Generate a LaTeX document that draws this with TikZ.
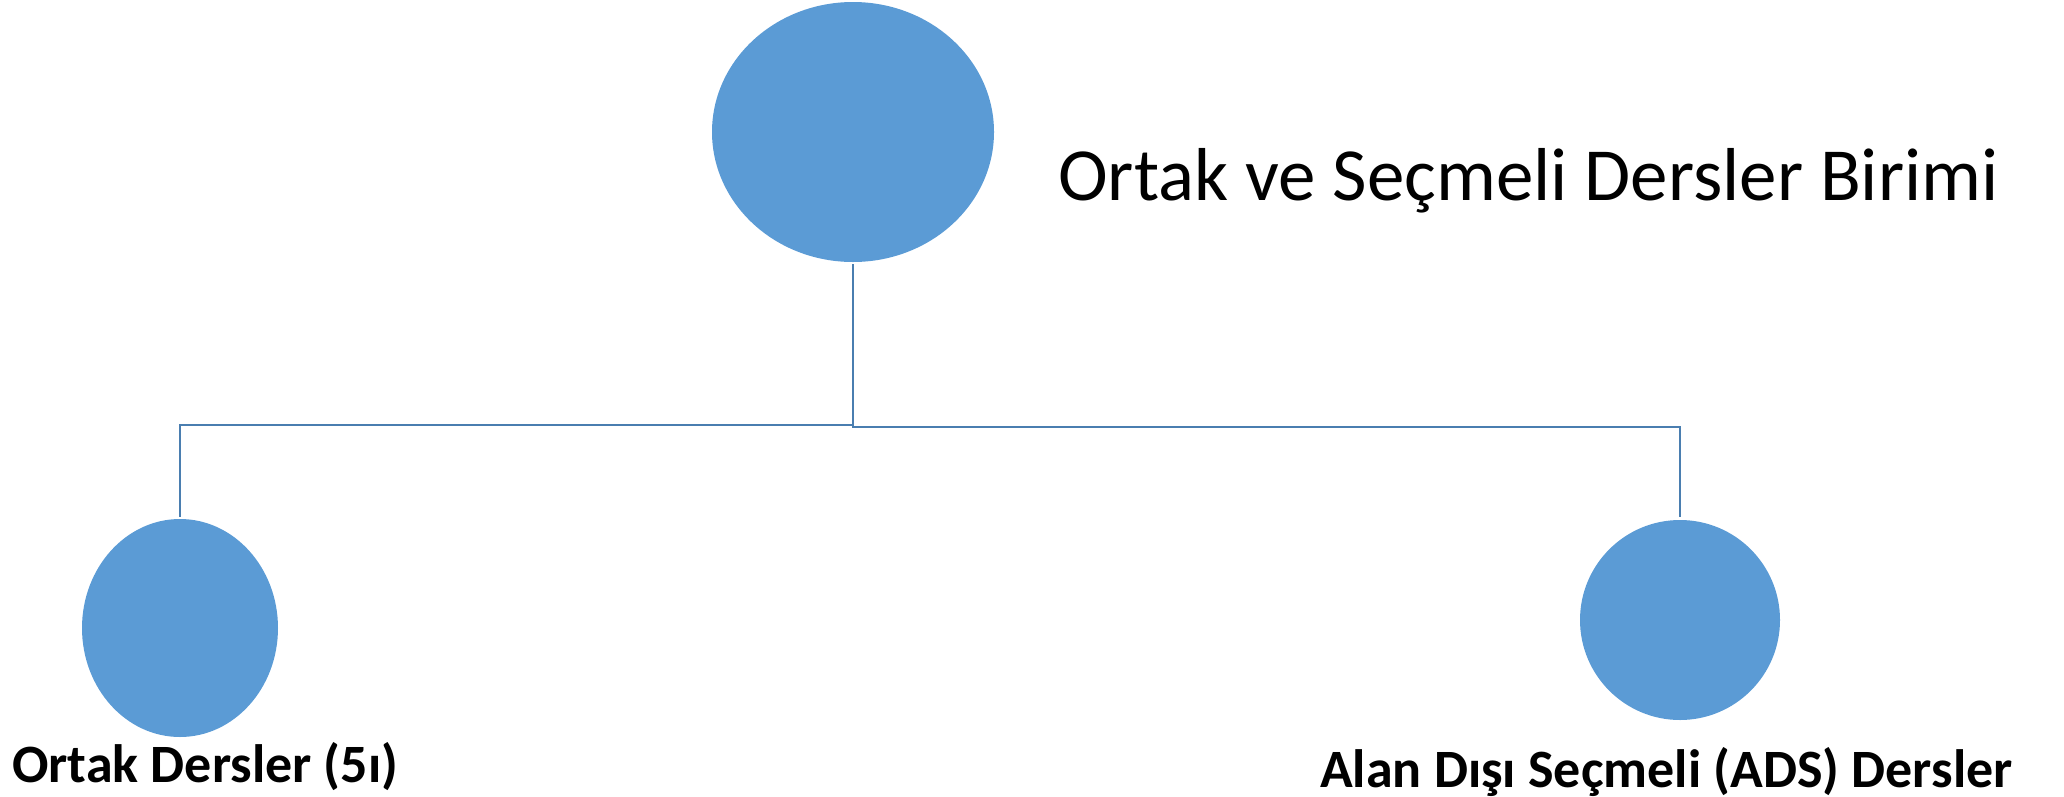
\documentclass[tikz,border=0pt]{standalone}
\usepackage{fontspec}
\setmainfont{Carlito}
\usetikzlibrary{shapes.geometric}
\definecolor{fillblue}{HTML}{5B9BD5}
\definecolor{lineblue}{HTML}{4A7EB0}
\tikzset{
  blob/.style={ellipse, fill=fillblue, draw=none, inner sep=0pt},
  conn/.style={draw=lineblue, line width=2pt},
  toplabel/.style={anchor=base west, inner sep=0pt, font=\fontsize{75}{80}\selectfont},
  sublabel/.style={anchor=base west, inner sep=0pt, font=\fontsize{54}{58}\selectfont\bfseries}
}
\begin{document}
\begin{tikzpicture}[x=1pt,y=-1pt]
\useasboundingbox (0,0) rectangle (2064,796);
\node[blob, minimum width=282pt, minimum height=260pt] (top) at (853,132) {};
\node[blob, minimum width=196pt, minimum height=218pt] (left) at (180,628) {};
\node[blob, minimum width=200pt, minimum height=200pt] (right) at (1680,620) {};
\node[toplabel] (toptext) at (1058,200) {Ortak ve Seçmeli Dersler Birimi};
\node[sublabel] (lefttext) at (12,782) {Ortak Dersler (5ı)};
\node[sublabel] (righttext) at (1320,787) {Alan Dışı Seçmeli (ADS) Dersler};
\coordinate (jl) at (853,425);
\coordinate (jr) at (853,427);
\draw[conn] ([yshift=-2pt]top.south) -- (jl) -| ([yshift=2pt]left.north);
\draw[conn] (jl) -- (jr) -| ([yshift=3pt]right.north);
\end{tikzpicture}
\end{document}
